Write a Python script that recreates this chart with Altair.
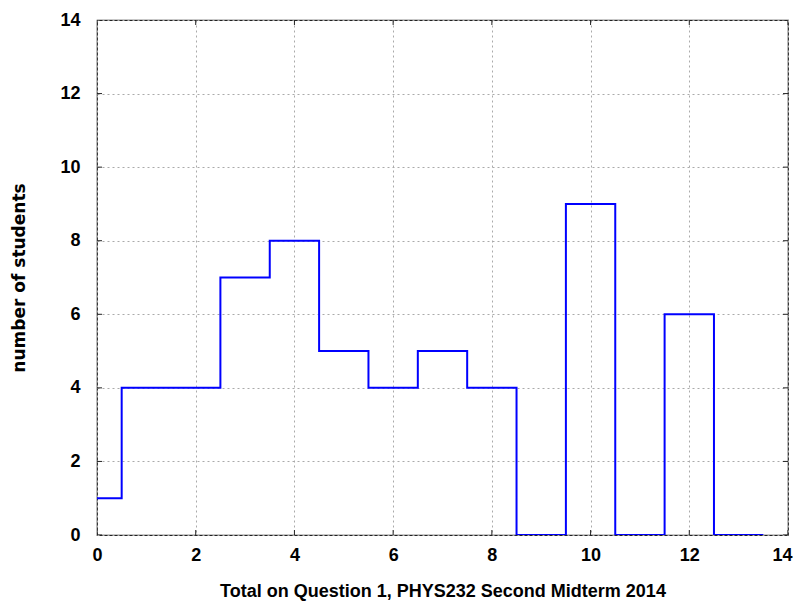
import altair as alt
import pandas as pd

# Data
scores = [0, 1, 2, 3, 4, 5, 6, 7, 8, 9, 10, 11, 12, 13]
counts = [1, 4, 4, 7, 8, 5, 4, 5, 4, 0, 9, 0, 6, 0]
tick_values = [0, 2, 4, 6, 8, 10, 12, 14]

# Build step vertices (left edge of each bin, plus final right edge)
edges = [max(s - 0.5, 0) for s in scores] + [scores[-1] + 0.5]
heights = counts + [counts[-1]]
steps = pd.DataFrame({"x": edges, "y": heights})
ticks = pd.DataFrame({"v": tick_values})

FONT = "Liberation Sans"
xscale = alt.Scale(domain=[0, 14], nice=False, zero=False)
yscale = alt.Scale(domain=[0, 14], nice=False, zero=False)

xaxis = alt.Axis(values=tick_values, grid=True, gridDash=[2, 3], gridColor="#aaaaaa",
                 gridWidth=1, domain=False, ticks=False, labelPadding=11, labelFlush=False,
                 labelAlign={"expr": "datum.value == 14 ? 'right' : 'center'"},
                 labelOffset={"expr": "datum.value == 14 ? 4 : 0"},
                 labelFont=FONT, labelFontSize=18, labelFontWeight="bold", labelColor="#000",
                 title="Total on Question 1, PHYS232 Second Midterm 2014",
                 titleFont=FONT, titleFontSize=18, titleFontWeight="bold", titleColor="#000",
                 titlePadding=18)
yaxis = alt.Axis(values=tick_values, grid=True, gridDash=[2, 3], gridColor="#aaaaaa",
                 gridWidth=1, domain=False, ticks=False, labelPadding=17, labelFlush=False,
                 labelFont=FONT, labelFontSize=18, labelFontWeight="bold", labelColor="#000",
                 title="number of students",
                 titleFont="DejaVu Sans", titleFontSize=17, titleFontWeight="bold",
                 titleColor="#000", titlePadding=31)

line = alt.Chart(steps).mark_line(interpolate="step-after", color="#0000ff",
                                  strokeWidth=2, clip=True).encode(
    x=alt.X("x:Q", scale=xscale, axis=xaxis),
    y=alt.Y("y:Q", scale=yscale, axis=yaxis),
)

tick_style = dict(color="#222222", thickness=1, size=10, clip=True, opacity=1)
bottom = alt.Chart(ticks).mark_tick(orient="vertical", **tick_style).encode(
    x=alt.X("v:Q", scale=xscale), y=alt.datum(0))
top = alt.Chart(ticks).mark_tick(orient="vertical", **tick_style).encode(
    x=alt.X("v:Q", scale=xscale), y=alt.datum(14))
left = alt.Chart(ticks).mark_tick(orient="horizontal", **tick_style).encode(
    y=alt.Y("v:Q", scale=yscale), x=alt.datum(0))
right = alt.Chart(ticks).mark_tick(orient="horizontal", **tick_style).encode(
    y=alt.Y("v:Q", scale=yscale), x=alt.datum(14))

chart = alt.layer(line, bottom, top, left, right).properties(
    width=691, height=515,
    autosize=alt.AutoSizeParams(type="none"),
    padding={"left": 89, "top": 12, "right": 5, "bottom": 72},
    background="white",
).configure_view(stroke="#222222", strokeWidth=1.2)

chart.save("out.html", embed_options={"renderer": "svg", "actions": False})
